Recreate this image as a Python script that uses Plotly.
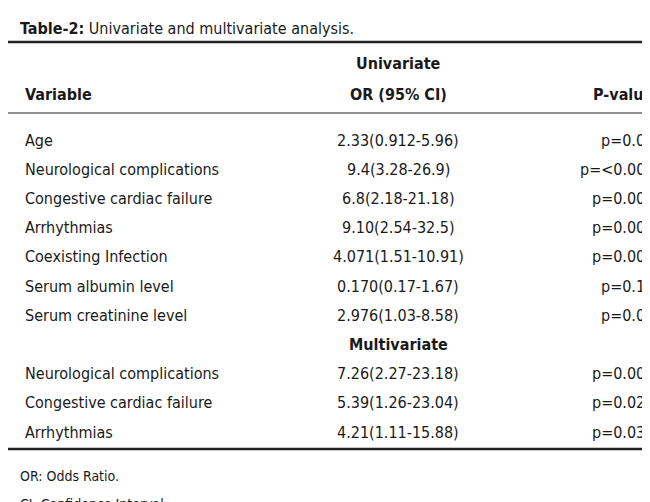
import plotly.graph_objects as go

# Table content
title_bold = "Table-2:"
title_rest = " Univariate and multivariate analysis."
uni_vars = ["Age", "Neurological complications", "Congestive cardiac failure", "Arrhythmias",
            "Coexisting Infection", "Serum albumin level", "Serum creatinine level"]
uni_or = ["2.33(0.912-5.96)", "9.4(3.28-26.9)", "6.8(2.18-21.18)", "9.10(2.54-32.5)",
          "4.071(1.51-10.91)", "0.170(0.17-1.67)", "2.976(1.03-8.58)"]
uni_p = ["p=0.07", "p=<0.005", "p=0.001", "p=0.001", "p=0.005", "p=0.13", "p=0.04"]
multi_vars = ["Neurological complications", "Congestive cardiac failure", "Arrhythmias"]
multi_or = ["7.26(2.27-23.18)", "5.39(1.26-23.04)", "4.21(1.11-15.88)"]
multi_p = ["p=0.001", "p=0.023", "p=0.034"]
footnotes = ["OR: Odds Ratio.", "CI: Confidence Interval."]

FONT = "Liberation Sans Narrow, DejaVu Sans Condensed, Arial Narrow, sans-serif"
fig = go.Figure()
ann = []

def txt(x, y, s, anchor="left", size=16, bold=False):
    if bold:
        s = "<b>" + s + "</b>"
    ann.append(dict(x=x, y=y, text=s, xref="x", yref="y", xanchor=anchor, yanchor="middle",
                    showarrow=False, font=dict(family=FONT, size=size, color="#1a1a1a")))

txt(2, 12, "<b>" + title_bold + "</b>" + title_rest)
txt(382, 47, "Univariate", "center", bold=True)
txt(7, 78, "Variable", bold=True)
txt(382, 78, "OR (95% CI)", "center", bold=True)
txt(640, 78, "P-value", "right", bold=True)

y0, step = 124, 29.2
rows = list(zip(uni_vars, uni_or, uni_p))
for i, (v, o, p) in enumerate(rows):
    y = y0 + i * step
    txt(7, y, v); txt(382, y, o, "center"); txt(640, y, p, "right")
txt(382, y0 + len(rows) * step, "Multivariate", "center", bold=True)
for j, (v, o, p) in enumerate(zip(multi_vars, multi_or, multi_p)):
    y = y0 + (len(rows) + 1 + j) * step
    txt(7, y, v); txt(382, y, o, "center"); txt(640, y, p, "right")
for k, f in enumerate(footnotes):
    txt(2, 460 + k * 28, f, size=14)

shapes = [
    dict(type="line", x0=-8, x1=642, y0=26, y1=26, line=dict(color="#222", width=2.5)),
    dict(type="line", x0=-8, x1=642, y0=97, y1=97, line=dict(color="#222", width=1.2)),
    dict(type="line", x0=-8, x1=642, y0=433, y1=433, line=dict(color="#222", width=2.5)),
]
for s in shapes:
    s.update(xref="x", yref="y")

# page body adds an 8px offset, so the ranges are shifted to compensate
fig.update_layout(
    width=650, height=502, margin=dict(l=0, r=0, t=0, b=0),
    paper_bgcolor="white", plot_bgcolor="white",
    xaxis=dict(range=[-8, 642], visible=False, fixedrange=True),
    yaxis=dict(range=[494, -8], visible=False, fixedrange=True),
    annotations=ann, shapes=shapes, showlegend=False,
)
fig.write_html("out.html")
